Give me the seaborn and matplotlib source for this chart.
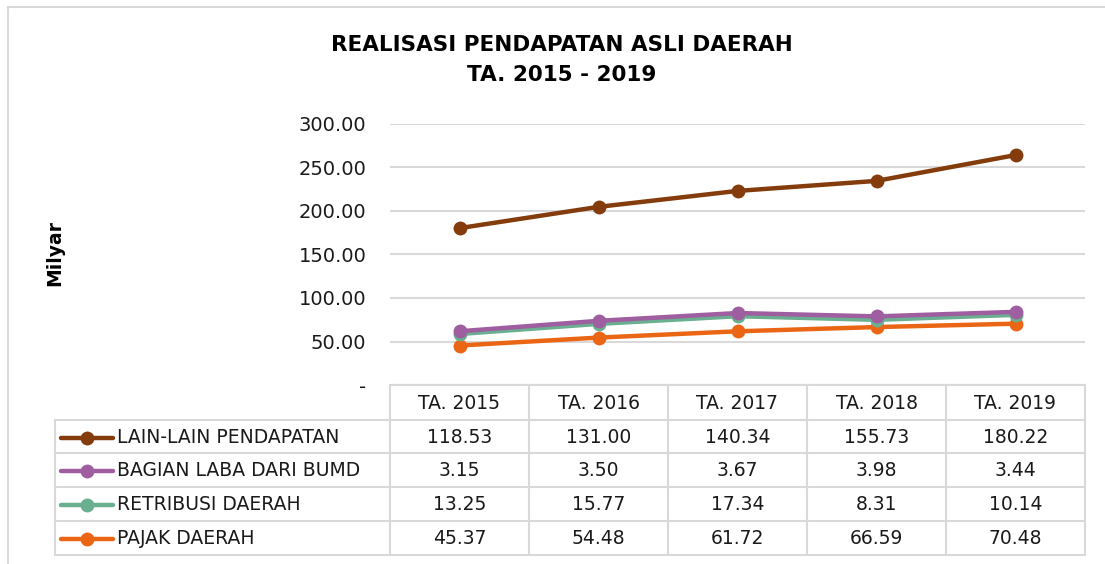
import pandas as pd
import matplotlib.pyplot as plt
import seaborn as sns
import numpy as np
from matplotlib.lines import Line2D

years = ['TA. 2015', 'TA. 2016', 'TA. 2017', 'TA. 2018', 'TA. 2019']
seriesNames = ['LAIN-LAIN PENDAPATAN', 'BAGIAN LABA DARI BUMD', 'RETRIBUSI DAERAH', 'PAJAK DAERAH']
lainLain = [118.53, 131.00, 140.34, 155.73, 180.22]
bagianLaba = [3.15, 3.50, 3.67, 3.98, 3.44]
retribusi = [13.25, 15.77, 17.34, 8.31, 10.14]
pajak = [45.37, 54.48, 61.72, 66.59, 70.48]
colors = ['#843C0C', '#9E5EA0', '#6AAF8F', '#EB6614']
yTicks = [0, 50, 100, 150, 200, 250, 300]

W, H = 1105, 564
sns.set_style("white")
plt.rcParams['font.family'] = ['DejaVu Sans']

# stacked line chart: each series sits on top of the ones below it
bottomUp = [pajak, retribusi, bagianLaba, lainLain]
bottomNames = seriesNames[::-1]
cum = np.cumsum(np.array(bottomUp), axis=0)
rows = []
for name, vals in zip(bottomNames, cum):
    for i, v in enumerate(vals):
        rows.append({'x': i, 'value': v, 'series': name})
df = pd.DataFrame(rows)

fig = plt.figure(figsize=(W / 100, H / 100), dpi=100)

def fx(px):
    return px / W

def fy(py):
    return 1 - py / H

plotLeft, plotRight, plotTop, plotBottom = 390, 1085, 124, 385
ax = fig.add_axes([fx(plotLeft), fy(plotBottom), fx(plotRight - plotLeft), (plotBottom - plotTop) / H])
palette = dict(zip(seriesNames, colors))
sns.lineplot(data=df, x='x', y='value', hue='series', hue_order=bottomNames, palette=palette,
             marker='o', markersize=10, markeredgewidth=0, linewidth=3.2, legend=False, ax=ax)
ax.set_xlim(-0.5, len(years) - 0.5)
ax.set_ylim(0, 300)
ax.set_yticks(yTicks)
ax.set_yticklabels(['-' if t == 0 else f'{t:.2f}' for t in yTicks], fontsize=14, color='#1a1a1a')
ax.set_xticks([])
ax.set_xlabel('')
ax.set_ylabel('')
ax.tick_params(axis='y', length=0, pad=17)
ax.grid(axis='y', color='#D9D9D9', linewidth=1.5)
ax.set_axisbelow(True)
for s in ax.spines.values():
    s.set_visible(False)

fig.text(fx(55), fy(253), 'Milyar', rotation=90, fontsize=13.5, fontweight='bold', ha='center', va='center', color='black')
fig.text(fx(562), fy(45), 'REALISASI PENDAPATAN ASLI DAERAH', fontsize=15.5, fontweight='bold', ha='center', va='center', color='black')
fig.text(fx(562), fy(75), 'TA. 2015 - 2019', fontsize=15.5, fontweight='bold', ha='center', va='center', color='black')

# data table below the chart
tax = fig.add_axes([0, 0, 1, 1], facecolor='none')
tax.set_xlim(0, W)
tax.set_ylim(H, 0)
tax.axis('off')
gridColor = '#D9D9D9'
colEdges = [plotLeft + (plotRight - plotLeft) * i / len(years) for i in range(len(years) + 1)]
rowEdges = [385, 420, 453, 487, 521, 555]
tableLeft = 55
tax.plot([plotLeft, plotRight], [rowEdges[0], rowEdges[0]], color=gridColor, lw=1.5)
for y in rowEdges[1:]:
    tax.plot([tableLeft, plotRight], [y, y], color=gridColor, lw=1.5)
tax.plot([tableLeft, tableLeft], [rowEdges[1], rowEdges[-1]], color=gridColor, lw=1.5)
for x in colEdges:
    tax.plot([x, x], [rowEdges[0], rowEdges[-1]], color=gridColor, lw=1.5)
centers = [(colEdges[i] + colEdges[i + 1]) / 2 for i in range(len(years))]
for c, yr in zip(centers, years):
    tax.text(c, (rowEdges[0] + rowEdges[1]) / 2 + 1, yr, ha='center', va='center', fontsize=13.5, color='#1a1a1a')
tableData = [lainLain, bagianLaba, retribusi, pajak]
for r, (name, vals, col) in enumerate(zip(seriesNames, tableData, colors)):
    yc = (rowEdges[r + 1] + rowEdges[r + 2]) / 2 + 1
    tax.add_line(Line2D([61, 113], [yc, yc], color=col, lw=3.2, solid_capstyle='round'))
    tax.add_line(Line2D([87], [yc], marker='o', markersize=10, markeredgewidth=0, color=col))
    tax.text(117, yc, name, ha='left', va='center', fontsize=13.5, color='#1a1a1a')
    for c, v in zip(centers, vals):
        tax.text(c, yc, f'{v:.2f}', ha='center', va='center', fontsize=13.5, color='#1a1a1a')

# outer chart border (top and left edges visible)
tax.plot([8, W], [7, 7], color=gridColor, lw=1.5)
tax.plot([8, 8], [7, H], color=gridColor, lw=1.5)

fig.savefig('out.png', dpi=100)
